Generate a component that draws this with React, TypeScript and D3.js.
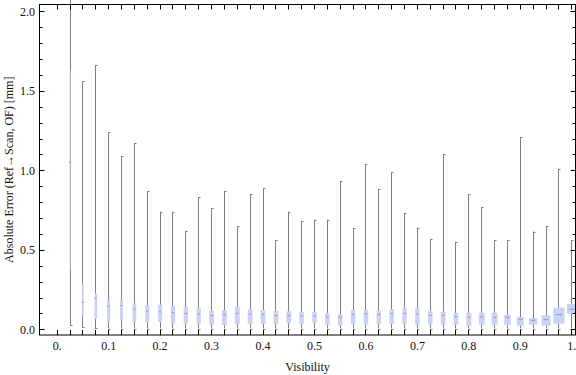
import { useEffect, useRef } from 'react';
import * as d3 from 'd3';

// visibility bins (x categories)
const visibility = [
  0.025, 0.05, 0.075, 0.1, 0.125, 0.15, 0.175, 0.2, 0.225, 0.25,
  0.275, 0.3, 0.325, 0.35, 0.375, 0.4, 0.425, 0.45, 0.475, 0.5,
  0.525, 0.55, 0.575, 0.6, 0.625, 0.65, 0.675, 0.7, 0.725, 0.75,
  0.775, 0.8, 0.825, 0.85, 0.875, 0.9, 0.925, 0.95, 0.975, 1.0,
];

// box-whisker statistics, absolute error in mm
const whiskerHigh = [
  2.35, 1.56, 1.66, 1.24, 1.09, 1.17, 0.87, 0.74, 0.74, 0.62,
  0.83, 0.76, 0.87, 0.65, 0.85, 0.89, 0.56, 0.74, 0.68, 0.69,
  0.69, 0.93, 0.635, 1.04, 0.88, 0.99, 0.73, 0.64, 0.57, 1.1,
  0.55, 0.85, 0.77, 0.56, 0.56, 1.21, 0.615, 0.65, 1.01, 0.56,
];
const q3 = [
  1.63, 0.29, 0.226, 0.189, 0.184, 0.165, 0.153, 0.155, 0.147, 0.14,
  0.136, 0.115, 0.121, 0.14, 0.128, 0.121, 0.115, 0.113, 0.109, 0.109,
  0.102, 0.094, 0.121, 0.123, 0.117, 0.128, 0.134, 0.134, 0.115, 0.111,
  0.104, 0.104, 0.104, 0.104, 0.092, 0.077, 0.071, 0.088, 0.136, 0.159,
];
const median = [
  1.05, 0.17, 0.195, 0.147, 0.149, 0.128, 0.113, 0.109, 0.105, 0.1,
  0.096, 0.086, 0.092, 0.1, 0.096, 0.092, 0.086, 0.086, 0.084, 0.084,
  0.077, 0.075, 0.092, 0.098, 0.092, 0.1, 0.1, 0.096, 0.088, 0.088,
  0.079, 0.077, 0.077, 0.075, 0.075, 0.063, 0.057, 0.061, 0.092, 0.126,
];
const q1 = [
  0.37, 0.08, 0.065, 0.048, 0.059, 0.048, 0.042, 0.046, 0.038, 0.033,
  0.033, 0.029, 0.027, 0.035, 0.035, 0.035, 0.033, 0.038, 0.033, 0.038,
  0.029, 0.023, 0.033, 0.029, 0.035, 0.035, 0.035, 0.029, 0.031, 0.029,
  0.029, 0.023, 0.029, 0.029, 0.029, 0.023, 0.029, 0.023, 0.035, 0.098,
];
const whiskerLow = [
  0.027, 0.016, 0.006, 0.005, 0.005, 0.005, 0.005, 0.005, 0.005, 0.005,
  0.005, 0.005, 0.005, 0.005, 0.005, 0.005, 0.005, 0.005, 0.005, 0.005,
  0.005, 0.005, 0.005, 0.005, 0.005, 0.005, 0.005, 0.005, 0.005, 0.005,
  0.005, 0.005, 0.005, 0.005, 0.005, 0.005, 0.005, 0.005, 0.005, 0.005,
];
// relative sample count per bin -> box width
const sampleCounts = [
  10, 15, 27, 30, 30, 38, 40, 40, 43, 43,
  43, 48, 48, 48, 48, 48, 48, 48, 45, 45,
  45, 45, 45, 45, 45, 45, 45, 45, 45, 48,
  48, 50, 58, 60, 65, 70, 82, 90, 112, 95,
];

const xTickLabels = ['0.', '0.1', '0.2', '0.3', '0.4', '0.5', '0.6', '0.7', '0.8', '0.9', '1.'];
const yTickLabels = ['0.0', '0.5', '1.0', '1.5', '2.0'];

export default function App() {
  const svgRef = useRef<SVGSVGElement | null>(null);

  useEffect(() => {
    const width = 576;
    const height = 375;
    const frame = { left: 39.5, right: 575.5, top: 4.5, bottom: 335 };
    const font = '"Liberation Serif", "Times New Roman", serif';

    const svg = d3.select(svgRef.current);
    svg.selectAll('*').remove();
    svg.attr('viewBox', `0 0 ${width} ${height}`);

    const x = d3.scaleLinear().domain([-0.0334, 1.0082]).range([frame.left, frame.right]);
    const y = d3.scaleLinear().domain([-0.0358, 2.0428]).range([frame.bottom, frame.top]);
    const w = d3.scaleLinear().domain([0, 100]).range([0, 10]);

    const data = visibility.map((v, i) => ({
      v,
      lo: whiskerLow[i],
      q1: q1[i],
      med: median[i],
      q3: q3[i],
      hi: whiskerHigh[i],
      n: sampleCounts[i],
    }));

    const g = svg.append('g');

    // whiskers
    g.selectAll('.whisker')
      .data(data)
      .join('line')
      .attr('x1', (d) => Math.round(x(d.v)) + 0.5)
      .attr('x2', (d) => Math.round(x(d.v)) + 0.5)
      .attr('y1', (d) => y(d.lo))
      .attr('y2', (d) => y(d.hi))
      .attr('stroke', '#808080')
      .attr('stroke-width', 1);

    // caps
    ['lo', 'hi'].forEach((k) => {
      g.selectAll(`.cap-${k}`)
        .data(data)
        .join('line')
        .attr('x1', (d) => Math.round(x(d.v)))
        .attr('x2', (d) => Math.round(x(d.v)) + 2.5)
        .attr('y1', (d: any) => Math.round(y(d[k])) + 0.5)
        .attr('y2', (d: any) => Math.round(y(d[k])) + 0.5)
        .attr('stroke', '#808080')
        .attr('stroke-width', 1);
    });

    // boxes
    g.selectAll('.box')
      .data(data)
      .join('rect')
      .attr('x', (d) => x(d.v) + 0.5 - w(d.n) / 2)
      .attr('width', (d) => w(d.n))
      .attr('y', (d) => y(d.q3))
      .attr('height', (d) => y(d.q1) - y(d.q3))
      .attr('fill', '#cbd2f6');

    // medians
    g.selectAll('.median')
      .data(data)
      .join('line')
      .attr('x1', (d) => x(d.v) + 0.5 - Math.max(1, w(d.n) * 0.28))
      .attr('x2', (d) => x(d.v) + 0.5 + Math.max(1, w(d.n) * 0.28))
      .attr('y1', (d) => y(d.med))
      .attr('y2', (d) => y(d.med))
      .attr('stroke', '#9496b8')
      .attr('stroke-width', 1);

    // frame
    svg.append('rect')
      .attr('x', frame.left)
      .attr('y', frame.top)
      .attr('width', frame.right - frame.left)
      .attr('height', frame.bottom - frame.top)
      .attr('fill', 'none')
      .attr('stroke', '#000')
      .attr('stroke-width', 1);

    // x ticks (bottom + top) at every bin
    const xTicks = [0, ...visibility];
    const ticks = svg.append('g').attr('stroke', '#000').attr('stroke-width', 1);
    xTicks.forEach((t) => {
      const px = Math.round(x(t)) + 0.5;
      ticks.append('line').attr('x1', px).attr('x2', px).attr('y1', frame.bottom).attr('y2', frame.bottom - 5);
      ticks.append('line').attr('x1', px).attr('x2', px).attr('y1', frame.top).attr('y2', frame.top + 5);
    });

    // y ticks: major every 0.5, minor every 0.1
    const yMinor = d3.range(0, 21).map((i) => i / 10);
    yMinor.forEach((t, i) => {
      const py = Math.round(y(t)) + 0.5;
      const len = i % 5 === 0 ? 5 : 3;
      ticks.append('line').attr('x1', frame.left).attr('x2', frame.left + len).attr('y1', py).attr('y2', py);
      ticks.append('line').attr('x1', frame.right).attr('x2', frame.right - len).attr('y1', py).attr('y2', py);
    });

    // tick labels
    svg.append('g')
      .selectAll('text')
      .data(xTickLabels)
      .join('text')
      .attr('x', (d) => x(parseFloat(d)) + 0.5)
      .attr('y', 350)
      .attr('text-anchor', 'middle')
      .attr('font-family', font)
      .attr('font-size', 12)
      .attr('fill', '#111')
      .text((d) => d);

    svg.append('g')
      .selectAll('text')
      .data(yTickLabels)
      .join('text')
      .attr('x', 35)
      .attr('y', (d) => y(parseFloat(d)))
      .attr('dy', '0.35em')
      .attr('text-anchor', 'end')
      .attr('font-family', font)
      .attr('font-size', 12)
      .attr('fill', '#111')
      .text((d) => d);

    // axis labels
    svg.append('text')
      .attr('x', (frame.left + frame.right) / 2)
      .attr('y', 371)
      .attr('text-anchor', 'middle')
      .attr('font-family', font)
      .attr('font-size', 12)
      .attr('fill', '#111')
      .text('Visibility');

    svg.append('text')
      .attr('transform', `translate(12.5,${(frame.top + frame.bottom) / 2}) rotate(-90)`)
      .attr('text-anchor', 'middle')
      .attr('font-family', font)
      .attr('font-size', 12)
      .attr('fill', '#111')
      .text('Absolute Error (Ref\u2192Scan, OF) [mm]');
  }, []);

  return (
    <svg
      ref={svgRef}
      width={576}
      height={375}
      style={{ position: 'absolute', left: 0, top: 0, background: '#fff' }}
    />
  );
}
